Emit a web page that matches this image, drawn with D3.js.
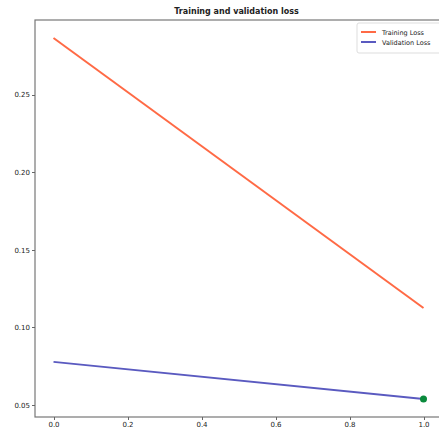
<!DOCTYPE html>
<html lang="en">
<head>
  <meta charset="UTF-8">
  <title>Training and validation loss</title>
  <script src="https://d3js.org/d3.v7.min.js"></script>
  <style>
  body { margin: 0; background: #fff; }
  text { font-family: "DejaVu Sans", sans-serif; fill: #222; }
  .axis path, .axis line { stroke: #666; shape-rendering: crispEdges; }
  .axis text { font-size: 7px; }
  </style>
</head>
<body>
  <div class="container"></div>
  <script>
  var epochs = [0, 1];
  var trainLoss = [0.2865, 0.1125];
  var valLoss = [0.0778, 0.0539];
  var xTicks = [0.0, 0.2, 0.4, 0.6, 0.8, 1.0];
  var yTicks = [0.05, 0.10, 0.15, 0.20, 0.25];

  var w = 439, h = 432,
      margin = {top: 20, right: -3, bottom: 15, left: 35};
  var g_w = w - margin.left - margin.right;
  var g_h = h - margin.top - margin.bottom;

  // matplotlib style 5% padding
  var xr = d3.extent(epochs), xp = (xr[1] - xr[0]) * 0.05;
  var all = trainLoss.concat(valLoss);
  var yr = d3.extent(all), yp = (yr[1] - yr[0]) * 0.05;

  var xScale = d3.scaleLinear().domain([xr[0] - xp, xr[1] + xp]).range([0, g_w]);
  var yScale = d3.scaleLinear().domain([yr[0] - yp, yr[1] + yp]).range([g_h, 0]);

  var svg = d3.select('.container').append('svg')
      .attr('width', w).attr('height', h);
  var g = svg.append('g')
      .attr('transform', 'translate(' + margin.left + ',' + margin.top + ')');

  // frame
  g.append('rect').attr('x', 0).attr('y', 0).attr('width', g_w).attr('height', g_h)
    .attr('fill', 'none').attr('stroke', '#777').attr('stroke-width', 1.2);

  var xAxis = d3.axisBottom(xScale).tickValues(xTicks).tickFormat(d3.format('.1f')).tickSize(3).tickPadding(2);
  var yAxis = d3.axisLeft(yScale).tickValues(yTicks).tickFormat(d3.format('.2f')).tickSize(3).tickPadding(2);
  g.append('g').attr('class', 'x axis').attr('transform', 'translate(0,' + g_h + ')').call(xAxis)
    .select('.domain').remove();
  g.append('g').attr('class', 'y axis').call(yAxis)
    .select('.domain').remove();

  var line = d3.line()
      .x(function(d, i) { return xScale(epochs[i]); })
      .y(function(d) { return yScale(d); });

  g.append('path').attr('d', line(trainLoss))
    .attr('fill', 'none').attr('stroke', '#ff6a45').attr('stroke-width', 2);
  g.append('path').attr('d', line(valLoss))
    .attr('fill', 'none').attr('stroke', '#5a5ac0').attr('stroke-width', 2);

  // best validation point
  var best = d3.minIndex(valLoss);
  g.append('circle')
    .attr('cx', xScale(epochs[best])).attr('cy', yScale(valLoss[best]))
    .attr('r', 3.5).attr('fill', '#0a8a3c');

  svg.append('text').attr('x', margin.left + g_w / 2 - 2).attr('y', 14)
    .attr('text-anchor', 'middle').style('font-size', '8px').style('font-weight', 'bold')
    .text('Training and validation loss');

  // legend
  var lg = svg.append('g').attr('transform', 'translate(357,23)');
  lg.append('rect').attr('width', 84).attr('height', 30).attr('rx', 2)
    .attr('fill', '#fff').attr('stroke', '#ddd');
  var items = [{label: 'Training Loss', color: '#ff6a45'}, {label: 'Validation Loss', color: '#5a5ac0'}];
  items.forEach(function(d, i) {
    lg.append('line').attr('x1', 4).attr('x2', 19).attr('y1', 9 + i * 10).attr('y2', 9 + i * 10)
      .attr('stroke', d.color).attr('stroke-width', 2);
    lg.append('text').attr('x', 25).attr('y', 11.5 + i * 10)
      .style('font-size', '6.5px').text(d.label);
  });
  </script>
</body>
</html>
